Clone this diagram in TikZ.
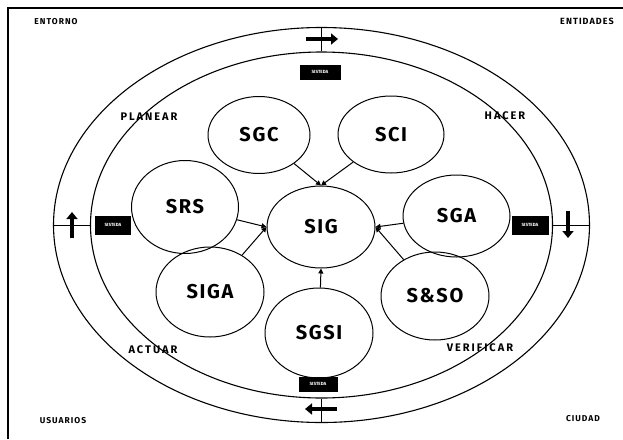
\documentclass[tikz,border=0pt]{standalone}
\usepackage{fontspec}
\setmainfont{Fira Sans}
\newfontfamily\spaced[LetterSpace=8]{Fira Sans}
\newfontfamily\wide[LetterSpace=18]{Fira Sans}
\newfontfamily\cornerfont[LetterSpace=12]{Fira Sans}
\usetikzlibrary{shapes.geometric,arrows.meta}
\tikzset{
  ring/.style={draw, ellipse, line width=1.1pt, inner sep=0pt},
  sub/.style={draw, ellipse, line width=1pt, inner sep=0pt,
    font=\spaced\bfseries\fontsize{20}{20}\selectfont},
  tag/.style={fill=black, text=white, inner sep=0pt,
    font=\bfseries\fontsize{4.5}{5}\selectfont},
  phase/.style={font=\wide\bfseries\fontsize{11}{11}\selectfont},
  corner/.style={font=\cornerfont\bfseries\fontsize{8.5}{9}\selectfont},
  feed/.style={-{Triangle[length=5pt,width=5pt]}, line width=1pt},
  flow/.style={line width=4.5pt, -{Triangle[length=7pt,width=11pt]}},
  tick/.style={line width=1pt},
}
\begin{document}
\begin{tikzpicture}[x=1pt,y=-1pt]
\useasboundingbox (0,0) rectangle (623,439);
% frame
\draw[line width=1.1pt] (8,439) -- (8,8) -- (623,8);
% corner labels
\node[corner] (ent) at (56,22) {ENTORNO};
\node[corner] (enti) at (587,21) {\fontsize{9}{9}\selectfont ENTIDADES};
\node[corner] (usu) at (63,421) {USUARIOS};
\node[corner] (ciu) at (583,419) {CIUDAD};
% rings
\node[ring, minimum width=536, minimum height=395] (outer) at (321.5,225) {};
\node[ring, minimum width=462, minimum height=346] (inner) at (321.5,225) {};
% ticks between rings
\draw[tick] (outer.north) -- (inner.north);
\draw[tick] (outer.south) -- (inner.south);
\draw[tick] (outer.west) -- (inner.west);
\draw[tick] (outer.east) -- (inner.east);
% flow arrows
\coordinate (ta) at (306,39);  \coordinate (tb) at (338,39);
\coordinate (ra) at (568,211); \coordinate (rb) at (568,238);
\coordinate (ba) at (337,409); \coordinate (bb) at (305,409);
\coordinate (la) at (72,238);  \coordinate (lb) at (72,212);
\draw[flow] (ta) -- (tb);
\draw[flow] (ra) -- (rb);
\draw[flow] (ba) -- (bb);
\draw[flow] (la) -- (lb);
% SISTEDA tags
\node[tag, minimum width=41, minimum height=15] (st) at (320,72) {SISTEDA};
\node[tag, minimum width=36, minimum height=19] (sl) at (113,225) {SISTEDA};
\node[tag, minimum width=37, minimum height=19] (sr) at (530,225) {SISTEDA};
\node[tag, minimum width=39, minimum height=15] (sb) at (318,384) {SISTEDA};
% phases
\node[phase] (pl) at (149,117) {PLANEAR};
\node[phase] (ha) at (505,116) {HACER};
\node[phase] (ac) at (153,350) {ACTUAR};
\node[phase] (ve) at (480,348) {VERIFICAR};
% subsystems
\node[sub, minimum width=102, minimum height=77] (sgc) at (259,135) {SGC};
\node[sub, minimum width=106, minimum height=77] (sci) at (391,134.5) {SCI};
\node[sub, minimum width=107, minimum height=93] (srs) at (185,207) {SRS};
\node[sub, minimum width=108, minimum height=82] (sig) at (321,227) {SIG};
\node[sub, minimum width=107, minimum height=82] (sga) at (456.5,216) {SGA};
\node[sub, minimum width=108, minimum height=90] (siga) at (210,292) {SIGA};
\node[sub, minimum width=108, minimum height=90] (sgsi) at (319,333) {SGSI};
\node[sub, minimum width=108, minimum height=88] (sso) at (435,296) {S\&SO};
% feeds into SIG
\draw[feed] (sgc) -- (sig.north);
\draw[feed] (sci) -- (sig.north);
\draw[feed] (srs) -- (sig.west);
\draw[feed] (siga) -- (sig.west);
\draw[feed] (sga) -- (sig.east);
\draw[feed] (sso) -- (sig.east);
\draw[feed] (sgsi) -- (sig.south);
\end{tikzpicture}
\end{document}
